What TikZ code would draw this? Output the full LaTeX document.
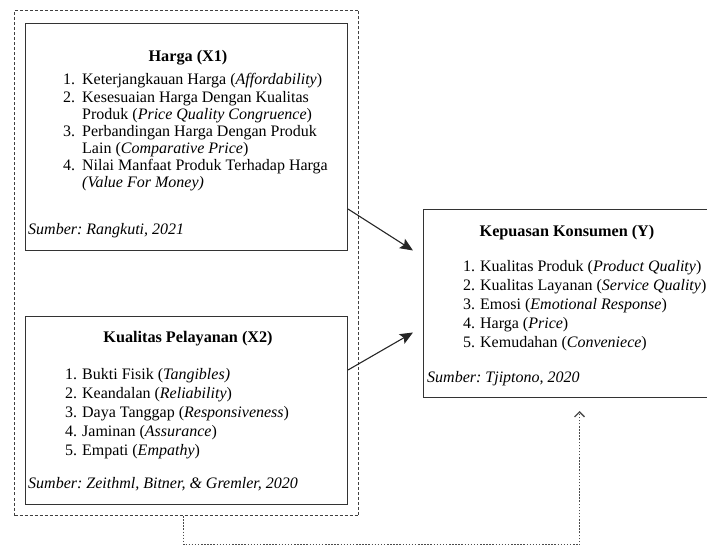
\documentclass[tikz,border=0pt]{standalone}
\usepackage{fontspec}
\setmainfont{Liberation Serif}
\usetikzlibrary{arrows.meta,positioning}
\frenchspacing

\tikzset{
  varbox/.style={draw=black!80, line width=1pt, rectangle, inner sep=0pt, anchor=north west},
  groupbox/.style={draw=black!75, line width=1pt, dash pattern=on 3pt off 2pt, rectangle, inner sep=0pt, anchor=north west},
  vartitle/.style={font=\fontsize{16.2}{17}\selectfont\bfseries, anchor=base, inner sep=0pt},
  indlist/.style={anchor=base west, inner sep=0pt},
  srcnote/.style={font=\fontsize{16}{17}\selectfont\itshape, anchor=base west, inner sep=0pt},
  effect/.style={draw=black!85, line width=1.1pt, -{Stealth[length=13pt,width=11pt,inset=2.5pt]}},
  feedback/.style={draw=black!70, line width=1.3pt, dash pattern=on 1.5pt off 1.6pt, -{Straight Barb[length=5pt,width=10pt]}}
}

\begin{document}
\begin{tikzpicture}[x=1pt, y=-1pt, font=\fontsize{16}{17.1}\selectfont]
  \useasboundingbox (0,0) rectangle (707,545);

  % ---------- kelompok variabel bebas ----------
  \node[groupbox, minimum width=344pt, minimum height=505pt] (grup) at (14,10) {};

  % ---------- Harga (X1) ----------
  \node[varbox, minimum width=322pt, minimum height=227pt] (harga) at (25,23) {};
  \node[vartitle] (hargajudul) at (188,62) {Harga (X1)};
  \node[indlist] (hargaisi) at (63,85) {%
    \begin{tabular}[t]{@{}p{19pt}@{}l@{}}
      1. & Keterjangkauan Harga (\textit{Affordability})\\
      2. & Kesesuaian Harga Dengan Kualitas\\
         & Produk (\textit{Price Quality Congruence})\\
      3. & Perbandingan Harga Dengan Produk\\
         & Lain (\textit{Comparative Price})\\
      4. & Nilai Manfaat Produk Terhadap Harga\\
         & \textit{(Value For Money)}
    \end{tabular}};
  \node[srcnote] (hargasumber) at (28,235) {Sumber: Rangkuti, 2021};

  % ---------- Kualitas Pelayanan (X2) ----------
  \node[varbox, minimum width=322pt, minimum height=188pt] (pelayanan) at (25,316) {};
  \node[vartitle] (pelayananjudul) at (188,343) {Kualitas Pelayanan (X2)};
  \node[indlist, font=\fontsize{16}{18.75}\selectfont] (pelayananisi) at (65,380) {%
    \begin{tabular}[t]{@{}p{17pt}@{}l@{}}
      1. & Bukti Fisik (\textit{Tangibles)}\\
      2. & Keandalan (\textit{Reliability})\\
      3. & Daya Tanggap (\textit{Responsiveness})\\
      4. & Jaminan (\textit{Assurance})\\
      5. & Empati (\textit{Empathy})
    \end{tabular}};
  \node[srcnote] (pelayanansumber) at (28,488) {Sumber: Zeithml, Bitner, \& Gremler, 2020};

  % ---------- Kepuasan Konsumen (Y) ----------
  \node[varbox, minimum width=290pt, minimum height=188pt] (kepuasan) at (423,209) {};
  \node[vartitle] (kepuasanjudul) at (567,237) {Kepuasan Konsumen (Y)};
  \node[indlist, font=\fontsize{16}{19}\selectfont] (kepuasanisi) at (463,272) {%
    \begin{tabular}[t]{@{}p{17pt}@{}l@{}}
      1. & Kualitas Produk (\textit{Product Quality})\\
      2. & Kualitas Layanan (\textit{Service Quality})\\
      3. & Emosi (\textit{Emotional Response})\\
      4. & Harga (\textit{Price})\\
      5. & Kemudahan (\textit{Conveniece})
    \end{tabular}};
  \node[srcnote] (kepuasansumber) at (427,382) {Sumber: Tjiptono, 2020};

  % ---------- hubungan ----------
  \draw[effect] ([yshift=42pt]harga.south east) -- ([xshift=-10pt,yshift=53pt]kepuasan.west);
  \draw[effect] ([yshift=-54pt]pelayanan.north east) -- ([xshift=-10pt,yshift=-29pt]kepuasan.west);
  \draw[feedback] ([xshift=-3pt]grup.south) -- ++(0,29) -| ([xshift=11pt,yshift=-13pt]kepuasan.south);
\end{tikzpicture}
\end{document}
